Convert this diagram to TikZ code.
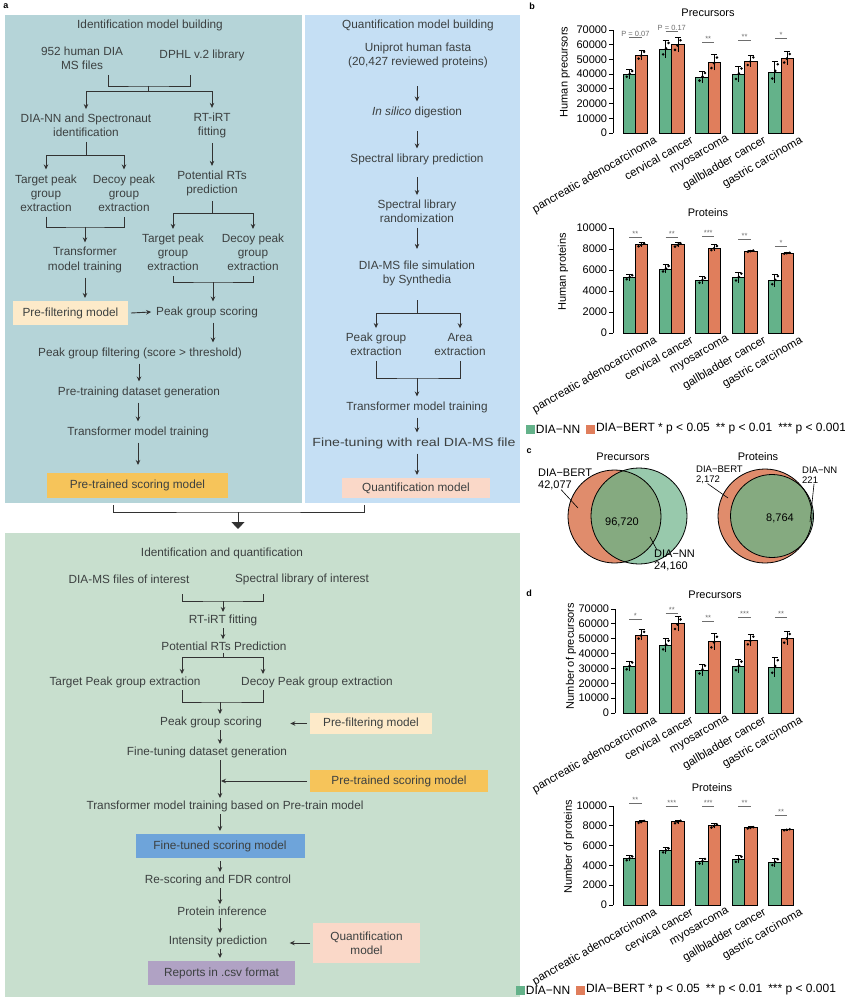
\documentclass[tikz,border=0pt]{standalone}
\usepackage{fontspec}
\setmainfont{Liberation Sans}
\usetikzlibrary{arrows.meta, positioning, calc}
\definecolor{tealbg}{RGB}{181, 212, 216}
\definecolor{bluebg}{RGB}{197, 223, 244}
\definecolor{greenbg}{RGB}{200, 223, 206}
\definecolor{prefill}{RGB}{253, 234, 201}
\definecolor{pretrain}{RGB}{246, 196, 90}
\definecolor{quantfill}{RGB}{250, 216, 200}
\definecolor{finefill}{RGB}{110, 164, 218}
\definecolor{reportfill}{RGB}{176, 162, 196}
\definecolor{txtgray}{RGB}{60, 64, 64}
\definecolor{linegray}{RGB}{50, 50, 50}
\definecolor{siggray}{RGB}{110, 110, 110}
\definecolor{nngreen}{RGB}{100, 178, 138}
\definecolor{bertorange}{RGB}{224, 126, 92}
\definecolor{vennorange}{RGB}{224, 140, 108}
\definecolor{venngreen}{RGB}{133, 170, 128}
\definecolor{vennlight}{RGB}{152, 201, 172}

\newcommand{\flowfont}{\fontsize{11.8}{14.2}\selectfont}
\newcommand{\chartfont}{\fontsize{11}{12}\selectfont}
\newcommand{\legfont}{\fontsize{12}{13}\selectfont}
\newcommand{\sigfont}{\fontsize{7.5}{8}\selectfont}

\tikzset{
  flow/.style={font=\flowfont, text=txtgray, align=center, inner sep=1pt, outer sep=4pt},
  flowt/.style={flow, outer sep=1.5pt},
  modelbox/.style={flow, outer sep=3pt, inner sep=2pt},
  arr/.style={draw=linegray, line width=0.9pt, -{Stealth[length=5pt,width=4.5pt]}},
  brk/.style={draw=linegray, line width=0.9pt},
  panel/.style={inner sep=0pt, outer sep=0pt, draw=none, anchor=north west},
  bar/.style={draw=black, line width=0.8pt},
  errbar/.style={draw=black, line width=0.7pt},
  sigline/.style={draw=siggray, line width=0.6pt},
  signote/.style={font=\sigfont, text=siggray, inner sep=0.5pt, above},
  xlab/.style={font=\fontsize{11.5}{12}\selectfont, rotate=30, anchor=north east, inner sep=0pt},
  ylab/.style={font=\chartfont, left, inner sep=1.5pt},
  axtitle/.style={font=\chartfont, rotate=90},
  vennlab/.style={font=\chartfont, align=left, inner sep=0pt},
  leader/.style={draw=black, line width=0.6pt},
  legkey/.style={minimum size=9pt, inner sep=0pt},
  legtext/.style={font=\legfont, anchor=west, inner sep=1pt},
  plabel/.style={font=\fontsize{9}{10}\selectfont\bfseries, inner sep=0pt},
}

% #1 zero line, #2 px per unit, #3 data, #4 name prefix
\newcommand{\drawgroups}[4]{%
  \foreach \gm/\gerr/\om/\oerr/\sig/\sy [count=\i from 0] in {#3} {%
    \pgfmathsetmacro{\xg}{623+36.4*\i}%
    \pgfmathsetmacro{\xo}{\xg+12.4}%
    \pgfmathsetmacro{\yg}{#1-\gm*#2}%
    \pgfmathsetmacro{\yo}{#1-\om*#2}%
    \pgfmathsetmacro{\eg}{\gerr*#2}%
    \pgfmathsetmacro{\eo}{\oerr*#2}%
    \draw[bar, fill=nngreen] (\xg,#1) rectangle (\xo,\yg);
    \draw[bar, fill=bertorange] (\xo,#1) rectangle ({\xo+12.4},\yo);
    \draw[errbar] ({\xg+6.2},{\yg+\eg}) -- ({\xg+6.2},{\yg-\eg})
      ({\xg+3.2},{\yg-\eg}) -- ({\xg+9.2},{\yg-\eg});
    \draw[errbar] ({\xo+6.2},{\yo+\eo}) -- ({\xo+6.2},{\yo-\eo})
      ({\xo+3.2},{\yo-\eo}) -- ({\xo+9.2},{\yo-\eo});
    \foreach \dx/\dy in {-2.5/-0.6,0.5/0.1,3/0.7} {
      \fill ({\xg+6.2+\dx},{\yg-\dy*\eg}) circle (1.4pt);
      \fill ({\xo+6.2-\dx},{\yo+\dy*\eo}) circle (1.4pt);
    }
    \draw[sigline] ({\xg+6.2},\sy) -- ({\xo+6.2},\sy) node[signote, midway] (#4s\i) {\sig};
  }%
  \foreach \lab [count=\i from 0] in {pancreatic adenocarcinoma,cervical cancer,myosarcoma,gallbladder cancer,gastric carcinoma}
    \node[xlab] (#4x\i) at ({623+36.4*\i+30.4},{#1+2}) {\lab};
}

\begin{document}
\begin{tikzpicture}[x=1pt, y=-1pt]
\useasboundingbox (0,0) rectangle (844,1000);

% Panels
\node[panel, fill=tealbg, minimum width=297pt, minimum height=488pt] (idpanel) at (5,15) {};
\node[panel, fill=bluebg, minimum width=215pt, minimum height=488pt] (qpanel) at (305,15) {};
\node[panel, fill=greenbg, minimum width=515pt, minimum height=464pt] (iqpanel) at (5,533) {};
\node[plabel] (la) at (6,6) {a};

% Identification model building
\node[flow] (idtitle) at (150,25) {Identification model building};
\node[flow] (msfiles) at (82,58.5) {952 human DIA\\MS files};
\node[flow] (dphl) at (202,55) {DPHL v.2 library};
\coordinate (msL) at (108,75);
\coordinate (msR) at (190,75);
\coordinate (msJ) at (148,86);
\coordinate (msS) at (148,91);
\node[flow] (dianna) at (86,125.5) {DIA-NN and Spectronaut\\identification};
\node[flow] (rtirt) at (212,125.5) {RT-iRT\\fitting};
\draw[brk] (msL) |- (msJ) -| (msR);
\draw[brk] (msJ) -- (msS);
\draw[arr] (msS) -| (dianna.north);
\draw[arr] (msS) -| (rtirt.north);

\node[flow] (tgt1) at (46,193) {Target peak\\group\\extraction};
\node[flow] (dcy1) at (124,193) {Decoy peak\\group\\extraction};
\coordinate (dnJ) at (86,155);
\draw[brk] (dianna.south) -- (dnJ);
\draw[arr] (dnJ) -| (tgt1.north);
\draw[arr] (dnJ) -| (dcy1.north);

\node[flow] (potrt) at (212,183.5) {Potential RTs\\prediction};
\draw[arr] (rtirt.south) -- (potrt.north);
\node[flow] (tgt2) at (173,252.5) {Target peak\\group\\extraction};
\node[flow] (dcy2) at (253,252.5) {Decoy peak\\group\\extraction};
\coordinate (prJ) at (212,213);
\draw[brk] (potrt.south) -- (prJ);
\draw[arr] (prJ) -| (tgt2.north);
\draw[arr] (prJ) -| (dcy2.north);

\node[flow] (tf1) at (85,260) {Transformer\\model training};
\coordinate (tfJ) at (85,227);
\draw[brk] (tgt1.south) |- (tfJ) -| (dcy1.south);
\draw[arr] (tfJ) -- (tf1.north);

\node[modelbox, fill=prefill, minimum width=115pt, minimum height=24pt] (prefilt1) at (70.5,313) {Pre-filtering model};
\node[flow] (pgs1) at (207,312) {Peak group scoring};
\coordinate (pgJ) at (213,282);
\draw[brk] (tgt2.south) |- (pgJ) -| (dcy2.south);
\draw[arr] (pgJ) -- (pgJ |- pgs1.north);
\draw[arr] (tf1.south) -- (tf1.south |- prefilt1.north);
\draw[arr] (prefilt1.east) -- (pgs1.west);

\node[flow] (pgfilt) at (140,353) {Peak group filtering (score > threshold)};
\node[flow] (ptds) at (139,392) {Pre-training dataset generation};
\node[flow] (tm1) at (138,432) {Transformer model training};
\node[modelbox, fill=pretrain, minimum width=181pt, minimum height=25pt] (ptm1) at (137.5,485.5) {Pre-trained scoring model};
\draw[arr] (pgJ |- pgs1.south) -- (pgJ |- pgfilt.north);
\draw[arr] (pgfilt.south -| ptds) -- (ptds.north);
\draw[arr] (ptds.south -| tm1) -- (tm1.north);
\draw[arr, shorten >=5pt] (tm1.south) -- (tm1.south |- ptm1.north);

% Quantification model building
\node[flow] (qtitle) at (418,25) {Quantification model building};
\node[flow] (uniprot) at (418,55.5) {Uniprot human fasta\\(20,427 reviewed proteins)};
\node[flow] (silico) at (417,112) {\textit{In silico} digestion};
\node[flow] (slpred) at (417,159) {Spectral library prediction};
\node[flow] (slrand) at (417,211.5) {Spectral library\\randomization};
\node[flow] (dsim) at (417,273.5) {DIA-MS file simulation\\by Synthedia};
\node[flow] (pge) at (376,344.5) {Peak group\\extraction};
\node[flow] (areax) at (460,344.5) {Area\\extraction};
\node[flow] (tm2) at (417,407) {Transformer model training};
\node[flow] (ftune) at (414,443) {\scalebox{1.2}[1]{Fine-tuning with real DIA-MS file}};
\node[modelbox, fill=quantfill, minimum width=148pt, minimum height=20pt] (qmodel1) at (416,488) {Quantification model};
\draw[arr, shorten <=13pt] (uniprot.south -| silico) -- (silico.north);
\draw[arr, shorten <=9pt] (silico.south) -- (slpred.north);
\draw[arr, shorten <=8pt] (slpred.south) -- (slrand.north);
\draw[arr, shorten >=7pt] (slrand.south) -- (dsim.north);
\coordinate (dsJ) at (417,313);
\coordinate (peJ) at (417,378);
\draw[brk, shorten <=9pt] (dsim.south) -- (dsJ);
\draw[arr] (dsJ) -| (pge.north);
\draw[arr] (dsJ) -| (areax.north);
\draw[brk] (pge.south) |- (peJ) -| (areax.south);
\draw[arr] (peJ) -- (tm2.north);
\draw[arr] (tm2.south) -- (tm2.south |- ftune.north);
\draw[arr] (tm2.south |- ftune.south) -- (tm2.south |- qmodel1.north);

% Merge into identification and quantification
\coordinate (mgL) at (113,505);
\coordinate (mgR) at (364,505);
\coordinate (mgJ) at (238,512);
\draw[brk] (mgL) |- (mgJ) -| (mgR);
\draw[brk, -{Triangle[width=13pt,length=7pt]}, shorten >=4pt] (mgJ) -- (mgJ |- iqpanel.north);

% Identification and quantification
\node[flowt] (iqtitle) at (222,553) {Identification and quantification};
\node[flowt] (diafiles) at (129,579) {DIA-MS files of interest};
\node[flowt] (speclib) at (302,579) {Spectral library of interest};
\coordinate (dfL) at (182,594);
\coordinate (dfR) at (263,594);
\coordinate (dfJ) at (223,601);
\draw[brk] (dfL) |- (dfJ) -| (dfR);
\node[flowt] (rtirt2) at (223,620) {RT-iRT fitting};
\node[flowt] (potrt2) at (224,646) {Potential RTs Prediction};
\draw[arr] (dfJ) -- (rtirt2.north);
\draw[arr] (rtirt2.south) -- (rtirt2.south |- potrt2.north);
\coordinate (prJ2) at (223,657);
\node[flowt] (tpe2) at (125,682) {Target Peak group extraction};
\node[flowt] (dpe2) at (317,682) {Decoy Peak group extraction};
\draw[brk] (prJ2 |- potrt2.south) -- (prJ2);
\draw[arr] (prJ2) -| (tpe2.north -| dfL);
\draw[arr] (prJ2) -| (dpe2.north -| dfR);
\coordinate (pgJ2) at (220,702);
\draw[brk] (tpe2.south -| dfL) |- (pgJ2) -| (dpe2.south -| dfR);
\node[flowt] (pgs2) at (211,722) {Peak group scoring};
\node[modelbox, fill=prefill, minimum width=122pt, minimum height=21pt] (prefilt2) at (371,723.5) {Pre-filtering model};
\draw[arr] (pgJ2) -- (pgJ2 |- pgs2.north);
\draw[arr, shorten >=26pt] (prefilt2.west) -- (prefilt2.west -| pgs2.east);

\node[flowt] (ftds) at (207,752) {Fine-tuning dataset generation};
\node[modelbox, fill=pretrain, minimum width=178pt, minimum height=22pt] (pretrained2) at (399,781) {Pre-trained scoring model};
\node[flowt] (tmb) at (225,806) {Transformer model training based on Pre-train model};
\draw[arr] (pgJ2 |- pgs2.south) -- (pgJ2 |- ftds.north);
\draw[arr] (pgJ2 |- ftds.south) -- (pgJ2 |- tmb.north);
\draw[arr, shorten >=1pt] (pretrained2.west) -- (pgJ2 |- pretrained2.west);

\node[modelbox, fill=finefill, minimum width=169pt, minimum height=24pt] (ftsm) at (220,846) {Fine-tuned scoring model};
\node[flowt] (rescore) at (218,880) {Re-scoring and FDR control};
\node[flowt] (protinf) at (222,911) {Protein inference};
\node[flowt] (intpred) at (218,941) {Intensity prediction};
\node[modelbox, fill=quantfill, minimum width=107pt, minimum height=40pt] (qmodel2) at (366.5,943) {Quantification\\model};
\node[modelbox, fill=reportfill, minimum width=147pt, minimum height=24pt] (reports) at (221.5,973) {Reports in .csv format};
\draw[arr] (pgJ2 |- tmb.south) -- (pgJ2 |- ftsm.north);
\draw[arr] (ftsm.south) -- (ftsm.south |- rescore.north);
\draw[arr] (ftsm.south |- rescore.south) -- (ftsm.south |- protinf.north);
\draw[arr] (ftsm.south |- protinf.south) -- (ftsm.south |- intpred.north);
\draw[arr] (ftsm.south |- intpred.south) -- (ftsm.south |- reports.north);
\draw[arr, shorten >=20pt] (qmodel2.west) -- (qmodel2.west -| intpred.east);

% b: precursors
\node[plabel] (lb) at (532,6) {b};
\node[font=\chartfont] (bpt) at (708,13) {Precursors};
\draw[bar] (613,133) -- (613,30);
\foreach \t/\lab in {0/0,10/10000,20/20000,30/30000,40/40000,50/50000,60/60000,70/70000}
  \draw[bar] (613,{133-\t*1.471}) -- (609,{133-\t*1.471}) node[ylab] (bpy\t) {\lab};
\node[axtitle] (bpyt) at (565,72) {Human precursors};
\drawgroups{133}{1.471}{40/3/53/3.5/{P = 0.07}/37, 57/6/60/5/{P = 0.17}/31, 38/4/48/5.5/{**}/42, 40/5.5/49/4/{**}/40, 41.5/7.5/51/4.5/{*}/38}{bp}

% b: proteins
\node[font=\chartfont] (bqt) at (708,213) {Proteins};
\draw[bar] (613,333) -- (613,228);
\foreach \t/\lab in {0/0,2/2000,4/4000,6/6000,8/8000,10/10000}
  \draw[bar] (613,{333-\t*10.5}) -- (609,{333-\t*10.5}) node[ylab] (bqy\t) {\lab};
\node[axtitle] (bqyt) at (563,272) {Human proteins};
\drawgroups{333}{10.5}{5.3/0.3/8.4/0.2/{**}/237, 6.1/0.4/8.4/0.25/{**}/237, 5.0/0.35/8.1/0.3/{***}/236, 5.3/0.5/7.8/0.1/{**}/239, 5.0/0.6/7.6/0.08/{*}/246}{bq}

% b: legend
\node[legkey, fill=nngreen] (blnn) at (530,429) {};
\node[legtext] (blnnt) at (blnn.east) {DIA−NN};
\node[legkey, fill=bertorange, right=4pt of blnnt] (blbert) {};
\node[legtext] (blbertt) at (blbert.east) {DIA−BERT * p < 0.05\enspace ** p < 0.01\enspace *** p < 0.001};

% c: Venn diagrams
\node[plabel] (lc) at (529,451) {c};
\node[font=\chartfont] (cpt) at (623,457) {Precursors};
\coordinate (cpb) at (614.5,516.5);
\coordinate (cpn) at (639,516);
\fill[vennlight] (cpn) circle (48pt);
\fill[vennorange] (cpb) circle (46.5pt);
\begin{scope}
  \clip (cpb) circle (46.5pt);
  \fill[venngreen] (cpn) circle (48pt);
\end{scope}
\draw[bar] (cpb) circle (46.5pt);
\draw[bar] (cpn) circle (48pt);
\node[font=\chartfont] (cpboth) at (622,522) {96,720};
\node[vennlab, anchor=west] (cpbl) at (538,479) {DIA−BERT\\42,077};
\coordinate (cpbp) at (578,508);
\draw[leader] ([xshift=-4pt]cpbl.south) -- (cpbp);
\node[vennlab, anchor=north west] (cpnl) at (654,550) {DIA−NN\\24,160};
\coordinate (cpnp) at (650,537);
\draw[leader] ([xshift=3pt]cpnl.north west) -- (cpnp);

\node[font=\chartfont] (cqt) at (758,457) {Proteins};
\coordinate (cqb) at (765,516);
\coordinate (cqn) at (772,516);
\fill[vennlight] (cqn) circle (41.5pt);
\fill[vennorange] (cqb) circle (47pt);
\begin{scope}
  \clip (cqb) circle (47pt);
  \fill[venngreen] (cqn) circle (41.5pt);
\end{scope}
\draw[bar] (cqb) circle (47pt);
\draw[bar] (cqn) circle (41.5pt);
\node[font=\chartfont] (cqboth) at (780,518) {8,764};
\node[vennlab, font=\fontsize{9.5}{10}\selectfont, anchor=west] (cqbl) at (696,474.5) {DIA−BERT\\2,172};
\coordinate (cqbp) at (728,498);
\draw[leader] ([xshift=-12pt]cqbl.south) -- (cqbp);
\node[vennlab, font=\fontsize{9.5}{10}\selectfont, anchor=west] (cqnl) at (802,475.5) {DIA−NN\\221};
\coordinate (cqnp) at (810,522);
\draw[leader] ([xshift=12pt]cqnl.south west) -- (cqnp);

% d: precursors
\node[plabel] (ld) at (529,593) {d};
\node[font=\chartfont] (dpt) at (715,595) {Precursors};
\draw[bar] (615,713) -- (615,609);
\foreach \t/\lab in {0/0,10/10000,20/20000,30/30000,40/40000,50/50000,60/60000,70/70000}
  \draw[bar] (615,{713-\t*1.486}) -- (611,{713-\t*1.486}) node[ylab] (dpy\t) {\lab};
\node[axtitle] (dpyt) at (571,656) {Number of precursors};
\drawgroups{713}{1.486}{31.5/3.5/52.5/3.5/{*}/619, 45.5/4.5/60/5/{**}/613, 29/4/48/5.5/{**}/621, 31.5/4.5/49/4/{***}/617, 31/6.5/50.5/4.5/{**}/617}{dp}

% d: proteins
\node[font=\chartfont] (dqt) at (712,788) {Proteins};
\draw[bar] (613,905) -- (613,806);
\foreach \t/\lab in {0/0,2/2000,4/4000,6/6000,8/8000,10/10000}
  \draw[bar] (613,{905-\t*9.9}) -- (609,{905-\t*9.9}) node[ylab] (dqy\t) {\lab};
\node[axtitle] (dqyt) at (569,847) {Number of proteins};
\drawgroups{905}{9.9}{4.7/0.3/8.4/0.15/{**}/803, 5.5/0.3/8.4/0.2/{***}/806, 4.4/0.35/8.0/0.25/{***}/806, 4.6/0.4/7.8/0.1/{**}/806, 4.3/0.45/7.6/0.08/{**}/815}{dq}

% d: legend
\node[legkey, fill=nngreen] (dlnn) at (520,990) {};
\node[legtext] (dlnnt) at (dlnn.east) {DIA−NN};
\node[legkey, fill=bertorange, right=4pt of dlnnt] (dlbert) {};
\node[legtext] (dlbertt) at (dlbert.east) {DIA−BERT * p < 0.05\enspace ** p < 0.01\enspace *** p < 0.001};
\end{tikzpicture}
\end{document}
